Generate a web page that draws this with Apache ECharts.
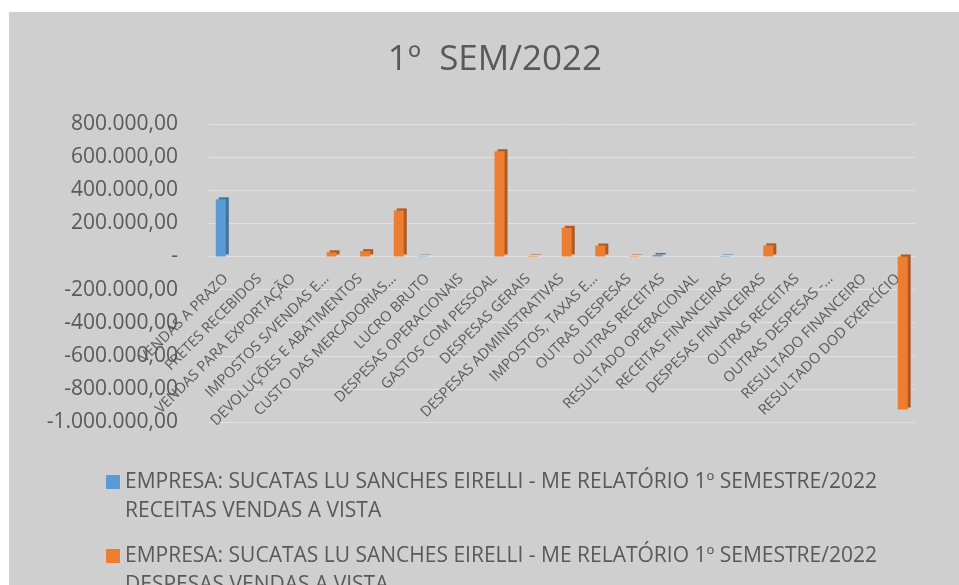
<!DOCTYPE html>
<html>
<head>
<meta charset="utf-8">
<script src="https://cdn.jsdelivr.net/npm/echarts@6/dist/echarts.min.js"></script>
<style>
  html, body { margin: 0; padding: 0; background: #ffffff; }
  #chart { position: absolute; left: 9px; top: 12px; width: 950px; height: 573px; }
</style>
</head>
<body>
<div id="chart"></div>
<script>
const categories = [
  "VENDAS A PRAZO", "FRETES RECEBIDOS", "VENDAS PARA EXPORTAÇÃO",
  "IMPOSTOS S/VENDAS E…", "DEVOLUÇÕES E ABATIMENTOS", "CUSTO DAS MERCADORIAS…",
  "LUCRO BRUTO", "DESPESAS OPERACIONAIS", "GASTOS COM PESSOAL", "DESPESAS GERAIS",
  "DESPESAS ADMINISTRATIVAS", "IMPOSTOS, TAXAS E…", "OUTRAS DESPESAS",
  "OUTRAS RECEITAS", "RESULTADO OPERACIONAL", "RECEITAS FINANCEIRAS",
  "DESPESAS FINANCEIRAS", "OUTRAS RECEITAS", "OUTRAS DESPESAS -…",
  "RESULTADO FINANCEIRO", "RESULTADO DOD EXERCÍCIO"
];

const receitas = [345000, null, null, null, null, null, 2000, null, null, null,
  null, null, null, 9000, null, 2500, null, null, null, null, null];

const despesas = [null, null, null, 25000, 32000, 278000, null, null, 635000, 3000,
  173000, 66000, 2500, null, null, null, 67000, null, null, null, -925000];

const seriesNames = [
  "EMPRESA: SUCATAS LU SANCHES EIRELLI - ME RELATÓRIO 1º SEMESTRE/2022 RECEITAS VENDAS A VISTA",
  "EMPRESA: SUCATAS LU SANCHES EIRELLI - ME RELATÓRIO 1º SEMESTRE/2022 DESPESAS VENDAS A VISTA"
];

const yMin = -1000000;
const yMax = 800000;
const yStep = 200000;

function formatBR(v) {
  if (v === 0) return "-";
  var neg = v < 0;
  var s = Math.abs(v).toFixed(2).split(".");
  var intPart = s[0].replace(/\B(?=(\d{3})+(?!\d))/g, ".");
  return (neg ? "-" : "") + intPart + "," + s[1];
}

const FONT = "Open Sans";
const TEXT = "#595959";
const GRID_LINE = "#e2e1e1";

// plot area, in px of the chart box
const gridTop = 112;
const gridBottom = 163;
const gridHeight = 573 - gridTop - gridBottom;
// category labels hang from the zero line, not from the bottom of the plot
const zeroOffset = -gridHeight * (0 - yMin) / (yMax - yMin);

const chart = echarts.init(document.getElementById("chart"));

chart.setOption({
  backgroundColor: "#d0cfcf",
  animation: false,
  title: {
    text: "1º  SEM/2022",
    left: 481,
    top: 26,
    textAlign: "center",
    textStyle: { fontFamily: FONT, fontSize: 35, fontWeight: "normal", color: TEXT }
  },
  legend: {
    orient: "vertical",
    left: 97,
    top: 456,
    height: 200,
    padding: 0,
    itemGap: 16,
    itemWidth: 14,
    itemHeight: 44,
    icon: "path://M0,0H14V14H0Z M0,44L0.01,44L0,44Z",
    formatter: function (name) { return name.replace("2022 ", "2022\n"); },
    textStyle: { fontFamily: FONT, fontSize: 21, color: TEXT, lineHeight: 29 }
  },
  grid: { left: 200, right: 44.5, top: gridTop, bottom: gridBottom },
  xAxis: {
    type: "category",
    data: categories,
    offset: zeroOffset,
    axisLine: { show: false, onZero: false },
    axisTick: { show: false },
    axisLabel: {
      interval: 0,
      rotate: 45,
      margin: 20,
      fontFamily: FONT,
      fontSize: 14.5,
      color: TEXT
    }
  },
  yAxis: {
    type: "value",
    min: yMin,
    max: yMax,
    interval: yStep,
    axisLine: { show: false },
    axisTick: { show: false },
    splitLine: { lineStyle: { color: GRID_LINE, width: 1 } },
    axisLabel: {
      margin: 31,
      fontFamily: FONT,
      fontSize: 21,
      color: TEXT,
      formatter: formatBR
    }
  },
  series: [
    {
      name: seriesNames[0],
      type: "bar",
      data: receitas,
      barWidth: 10,
      barGap: "0%",
      itemStyle: {
        color: "#5b9bd5",
        shadowColor: "#41719c",
        shadowOffsetX: 3,
        shadowOffsetY: -2,
        shadowBlur: 0
      }
    },
    {
      name: seriesNames[1],
      type: "bar",
      data: despesas,
      barWidth: 10,
      barGap: "0%",
      itemStyle: {
        color: "#ed7d31",
        shadowColor: "#ae5a21",
        shadowOffsetX: 3,
        shadowOffsetY: -2,
        shadowBlur: 0
      }
    }
  ]
});
</script>
</body>
</html>
